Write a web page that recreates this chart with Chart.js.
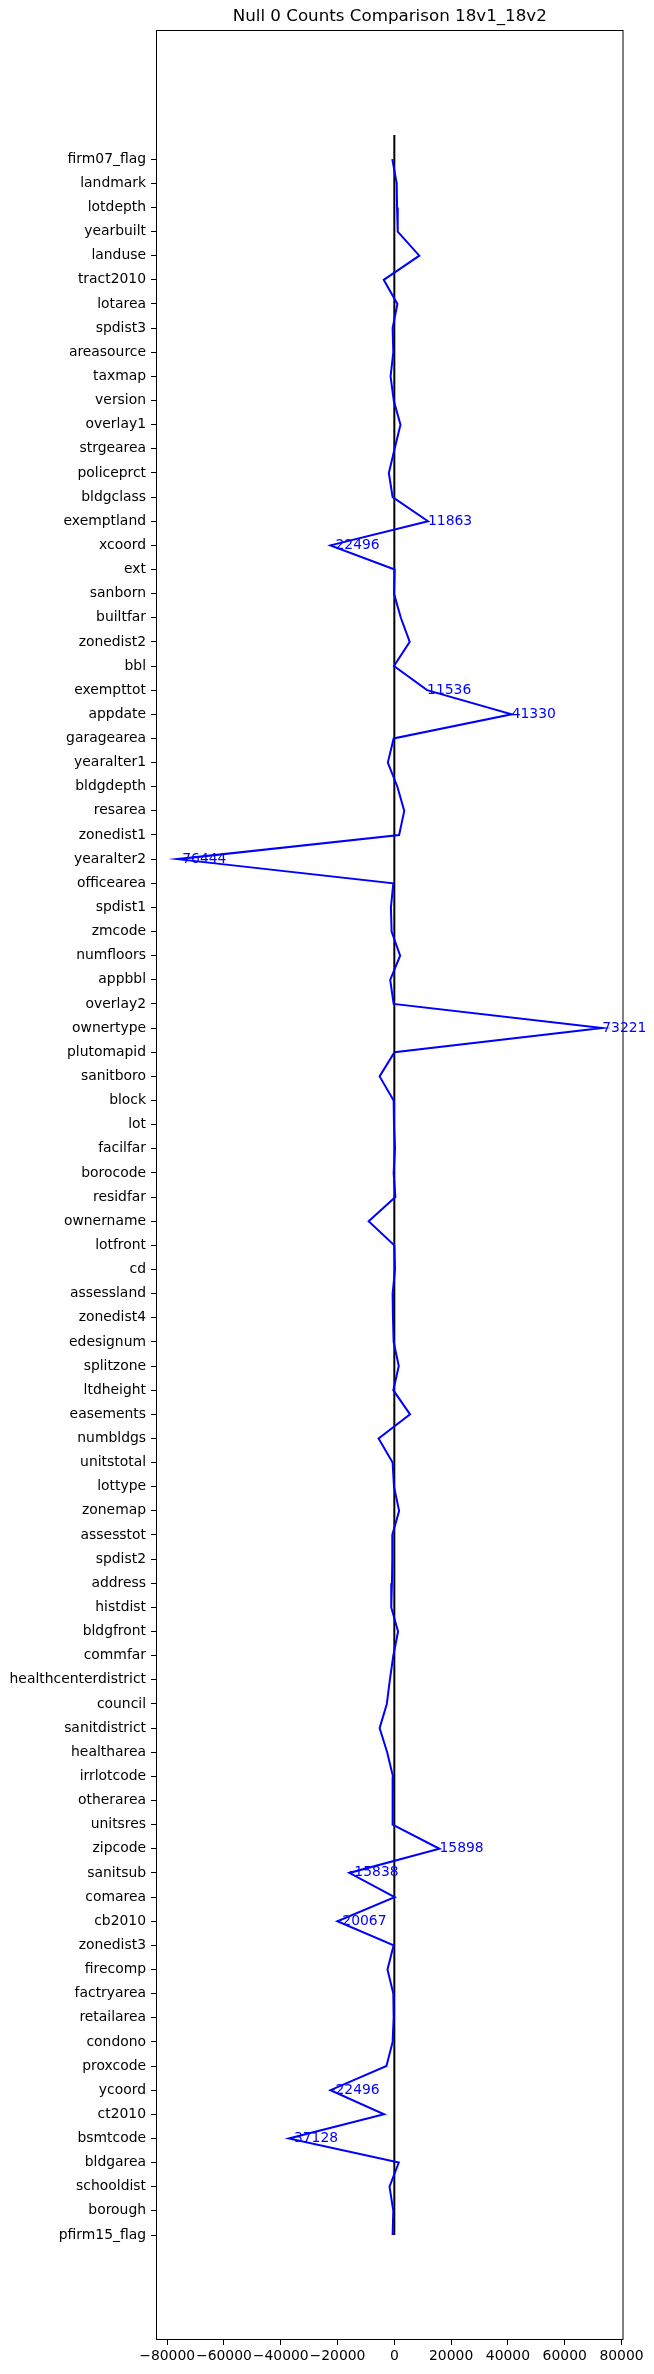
<!DOCTYPE html>
<html>
<head>
<meta charset="utf-8">
<script src="https://cdn.jsdelivr.net/npm/chart.js@4.4.1/dist/chart.umd.min.js"></script>
<style>
  html, body { margin: 0; padding: 0; background: #fff; }
  canvas { display: block; }
</style>
</head>
<body>
<canvas id="chart" width="654" height="2374"></canvas>
<script>
const title = 'Null 0 Counts Comparison 18v1_18v2';

// columns from top to bottom, as they appear on the plot
const columns = [
  'firm07_flag', 'landmark', 'lotdepth', 'yearbuilt', 'landuse', 'tract2010', 'lotarea', 'spdist3',
  'areasource', 'taxmap', 'version', 'overlay1', 'strgearea', 'policeprct', 'bldgclass', 'exemptland',
  'xcoord', 'ext', 'sanborn', 'builtfar', 'zonedist2', 'bbl', 'exempttot', 'appdate',
  'garagearea', 'yearalter1', 'bldgdepth', 'resarea', 'zonedist1', 'yearalter2', 'officearea', 'spdist1',
  'zmcode', 'numfloors', 'appbbl', 'overlay2', 'ownertype', 'plutomapid', 'sanitboro', 'block',
  'lot', 'facilfar', 'borocode', 'residfar', 'ownername', 'lotfront', 'cd', 'assessland',
  'zonedist4', 'edesignum', 'splitzone', 'ltdheight', 'easements', 'numbldgs', 'unitstotal', 'lottype',
  'zonemap', 'assesstot', 'spdist2', 'address', 'histdist', 'bldgfront', 'commfar', 'healthcenterdistrict',
  'council', 'sanitdistrict', 'healtharea', 'irrlotcode', 'otherarea', 'unitsres', 'zipcode', 'sanitsub',
  'comarea', 'cb2010', 'zonedist3', 'firecomp', 'factryarea', 'retailarea', 'condono', 'proxcode',
  'ycoord', 'ct2010', 'bsmtcode', 'bldgarea', 'schooldist', 'borough', 'pfirm15_flag'
];

// difference in null/0 counts, same order as columns
const diffs = [
  -720, 840, 960, 1200, 8800, -3730, 1080, -600,
  -360, -1320, -200, 2170, 100, -1930, -600, 11863,
  -22496, 120, -120, 2290, 5420, -120, 11536, 41330,
  -240, -2290, 1080, 3490, 1690, -76444, -360, -1200,
  -960, 2050, -1450, -240, 73221, 50, -5180, -240,
  -120, 240, -240, 360, -9040, 0, 240, -600,
  -480, -240, 1570, -360, 5540, -5540, -600, -120,
  1690, -720, -720, -840, -1080, 1320, -360, -1570,
  -2650, -5180, -2530, -480, -480, -720, 15898, -15838,
  120, -20067, -240, -2410, -360, -240, -600, -2770,
  -22496, -3610, -37128, 1570, -1690, -360, -600
];

const xTicks = [-80000, -60000, -40000, -20000, 0, 20000, 40000, 60000, 80000];
const labelThreshold = 10000;

const n = columns.length;
// first category sits at the bottom in matplotlib, so flip the index
const points = diffs.map((v, i) => ({ x: v, y: n - 1 - i }));
const zeroLine = [{ x: 0, y: 0 }, { x: 0, y: n }];

const xMin = Math.min(...diffs), xMax = Math.max(...diffs);
const xPad = (xMax - xMin) * 0.05;
const yPad = n * 0.05;

const fontFamily = '"DejaVu Sans", sans-serif';

const extras = {
  id: 'extras',
  afterDatasetsDraw(chart) {
    const { ctx, chartArea: a, scales } = chart;
    ctx.save();
    // frame
    ctx.strokeStyle = '#000';
    ctx.lineWidth = 1;
    ctx.strokeRect(a.left + 0.5, a.top + 0.5, a.right - a.left - 1, a.bottom - a.top - 1);
    // values of the big differences
    ctx.fillStyle = '#0000ff';
    ctx.font = '13.9px ' + fontFamily;
    ctx.textAlign = 'left';
    ctx.textBaseline = 'alphabetic';
    points.forEach(p => {
      if (Math.abs(p.x) > labelThreshold) {
        ctx.fillText(String(p.x), scales.x.getPixelForValue(p.x), scales.y.getPixelForValue(p.y) + 3.5);
      }
    });
    // title
    ctx.fillStyle = '#000';
    ctx.font = '16.7px ' + fontFamily;
    ctx.textAlign = 'center';
    ctx.textBaseline = 'middle';
    ctx.fillText(title, (a.left + a.right) / 2, 17);
    ctx.restore();
  }
};

const tickGrid = { display: true, drawOnChartArea: false, drawTicks: true, tickLength: 5, color: '#000', lineWidth: 1 };

new Chart(document.getElementById('chart'), {
  type: 'line',
  data: {
    datasets: [
      { data: points, borderColor: '#0000ff', borderWidth: 2, pointRadius: 0, tension: 0, fill: false },
      { data: zeroLine, borderColor: '#000', borderWidth: 2, pointRadius: 0, fill: false }
    ]
  },
  options: {
    responsive: false,
    animation: false,
    devicePixelRatio: 1,
    layout: { padding: { top: 30, right: 30.5, left: 0, bottom: 0 } },
    plugins: { legend: { display: false }, tooltip: { enabled: false }, title: { display: false } },
    scales: {
      x: {
        type: 'linear',
        min: xMin - xPad,
        max: xMax + xPad,
        afterBuildTicks: s => { s.ticks = xTicks.map(v => ({ value: v })); },
        afterFit: s => { s.height = 34; },
        grid: tickGrid,
        border: { display: false },
        ticks: {
          color: '#000',
          font: { family: fontFamily, size: 13.9 },
          padding: 3,
          maxRotation: 0,
          autoSkip: false,
          callback: v => v < 0 ? '\u2212' + Math.abs(v) : String(v)
        }
      },
      y: {
        type: 'linear',
        min: -yPad,
        max: n + yPad,
        afterBuildTicks: s => { s.ticks = columns.map((c, i) => ({ value: i })); },
        afterFit: s => { s.width = 156; },
        grid: tickGrid,
        border: { display: false },
        ticks: {
          color: '#000',
          font: { family: fontFamily, size: 13.9 },
          padding: 5,
          autoSkip: false,
          callback: v => columns[n - 1 - v]
        }
      }
    }
  },
  plugins: [extras]
});
</script>
</body>
</html>
